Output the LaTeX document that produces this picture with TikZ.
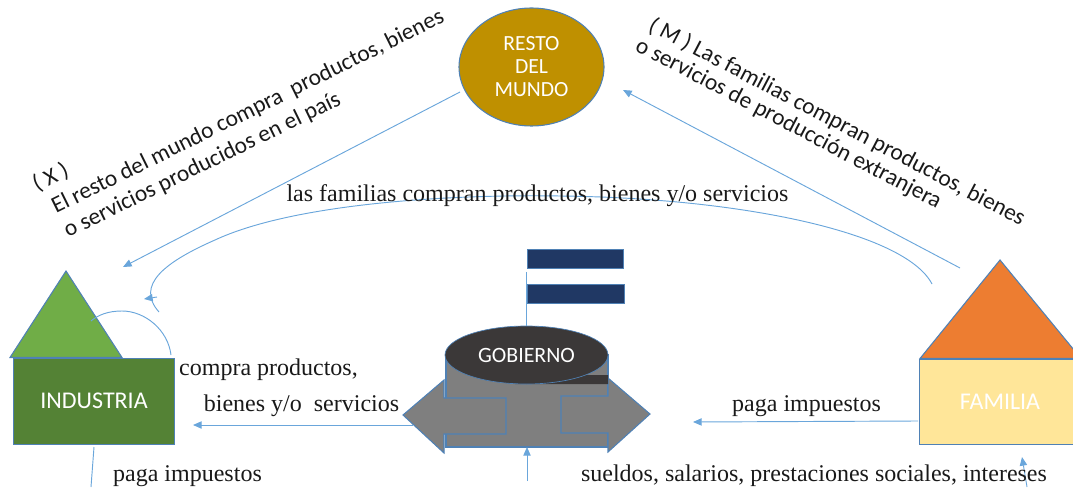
\documentclass[tikz,border=0pt]{standalone}
\usepackage{fontspec}
\setmainfont{Liberation Serif}
\newfontfamily\calfont{Carlito}
\usetikzlibrary{arrows.meta,shapes.geometric}
\definecolor{ln}{HTML}{6AA6DB}
\definecolor{edge}{HTML}{4F81B5}
\definecolor{gold}{RGB}{191,144,0}
\definecolor{indA}{RGB}{112,173,71}
\definecolor{indB}{RGB}{84,130,53}
\definecolor{famA}{RGB}{237,125,49}
\definecolor{famB}{RGB}{255,230,153}
\definecolor{gr}{RGB}{127,127,127}
\definecolor{dk}{RGB}{59,56,56}
\definecolor{nv}{RGB}{32,56,100}
\tikzset{
 conn/.style={draw=ln,line width=0.7pt},
 arr/.style={conn,-{Triangle[length=6.5pt,width=5.5pt,fill=ln]}},
 shp/.style={draw=edge,line width=0.8pt},
 lab/.style={font=\fontsize{18}{22}\selectfont,inner sep=0pt,anchor=base,text=black!90},
 rot/.style={font=\calfont\fontsize{17.5}{22}\selectfont,inner sep=0pt,anchor=base west,text=black!90},
 box/.style={shp,inner sep=0pt,anchor=north west,font=\calfont\fontsize{18}{20}\selectfont,text=white},
 flagbar/.style={draw=edge,line width=0.5pt,fill=nv,inner sep=0pt,anchor=north west},
}
\begin{document}
\begin{tikzpicture}[x=0.75pt,y=-0.75pt]
\useasboundingbox (0,0) rectangle (1073,491);
\clip (0,0) rectangle (1073,491);
% resto
\node[shp,fill=gold,ellipse,inner sep=0pt,minimum width=145*0.75pt,minimum height=118*0.75pt,align=center,font=\calfont\fontsize{16.2}{17.3}\selectfont,text=white] (resto) at (531.5,67) {RESTO\\DEL\\MUNDO};
% industria
\draw[shp,fill=indA] (66,271) -- (122,357.5) -- (10,357.5) -- cycle;
\node[box,fill=indB,minimum width=161*0.75pt,minimum height=86*0.75pt] (ind) at (13,357.5) {INDUSTRIA};
% familia
\draw[shp,fill=famA] (1000,260) -- (1081,358.5) -- (920,358.5) -- cycle;
\node[box,fill=famB,minimum width=161*0.75pt,minimum height=85.5*0.75pt] (fam) at (919,358.5) {FAMILIA};
% gobierno
\draw[shp,fill=gr] (446,355) -- (446,447) -- (608,447) -- (608,355) -- cycle;
\draw[shp,fill=gr] (506,398) -- (444,398) -- (444,380) -- (403,415) -- (444,453) -- (444,434) -- (506,434) -- cycle;
\draw[shp,fill=gr] (561,396) -- (608,396) -- (608,378) -- (650,414) -- (608,452) -- (608,433) -- (561,433) -- cycle;
\draw[shp] (446,434) -- (446,447) -- (608,447);
\fill[dk] (583,375) -- (608,375) -- (608,384) -- (515,384) -- cycle;
\node[ellipse,fill=dk,draw=edge,line width=0.5pt,inner sep=0pt,minimum width=163*0.75pt,minimum height=58*0.75pt,font=\calfont\fontsize{16.4}{17}\selectfont,text=white] (gob) at (526.5,355) {GOBIERNO};
% flag
\node[flagbar,minimum width=96*0.75pt,minimum height=19*0.75pt] (f1) at (527,249) {};
\node[flagbar,minimum width=97*0.75pt,minimum height=19*0.75pt] (f2) at (527,284) {};
\coordinate (poleT) at (526.5,272);
\draw[conn] (poleT) -- (gob.north -| poleT);
% connectors
\coordinate (a1s) at (460,92); \coordinate (a1e) at (123,267);
\draw[arr] (a1s) -- (a1e);
\coordinate (a2s) at (960,268); \coordinate (a2e) at (623,90);
\draw[arr] (a2s) -- (a2e);
\coordinate (c0) at (932,284); \coordinate (c1) at (159,312);
\draw[conn] (c0) .. controls (905,232) and (740,198) .. (560,196) .. controls (440,194) and (290,205) .. (215,240) .. controls (165,262) and (135,285) .. (c1);
\coordinate (c2) at (157,297); \coordinate (c3) at (144,299);
\draw[arr] (c2) -- (c3);
\coordinate (l0) at (171,355); \coordinate (l1) at (91,321);
\draw[conn] (l0) .. controls (168,330) and (145,311) .. (122,311) .. controls (108,311) and (98,315) .. (l1);
\coordinate (g1s) at (413,425); \coordinate (g1e) at (193,425);
\draw[arr] (g1s) -- (g1e);
\coordinate (g2s) at (918,421); \coordinate (g2e) at (693,422);
\draw[arr] (g2s) -- (g2e);
\coordinate (b1s) at (94,447); \coordinate (b1e) at (91,487);
\draw[conn] (b1s) -- (b1e);
\coordinate (b2s) at (527,481); \coordinate (b2e) at (527,447);
\draw[arr] (b2s) -- (b2e);
\coordinate (b3s) at (1027,487); \coordinate (b3e) at (1022,457);
\draw[arr] (b3s) -- (b3e);
% labels
\node[lab] (t1) at (537.5,201.5) {las familias compran productos, bienes y/o servicios};
\node[lab] (t2) at (268.5,375) {compra productos,};
\node[lab] (t3) at (301.5,411) {bienes y/o\ \ servicios};
\node[lab] (t4) at (187.5,481) {paga impuestos};
\node[lab] (t5) at (806.5,411) {paga impuestos};
\node[lab] (t6) at (814,481) {sueldos, salarios, prestaciones sociales, intereses};
\node[rot,rotate=26.3] (x0) at (37,192) {( X )};
\node[rot,rotate=26.3] (x1) at (56,214) {El resto del mundo compra\ \ productos, bienes};
\node[rot,rotate=26] (x2) at (68,238) {o servicios producidos en el país};
\node[rot,rotate=-27.7] (m1) at (647,30) {( M ) Las familias compran productos, bienes};
\node[rot,rotate=-27.7] (m2) at (634,50) {o servicios de producción extranjera};
\end{tikzpicture}
\end{document}
